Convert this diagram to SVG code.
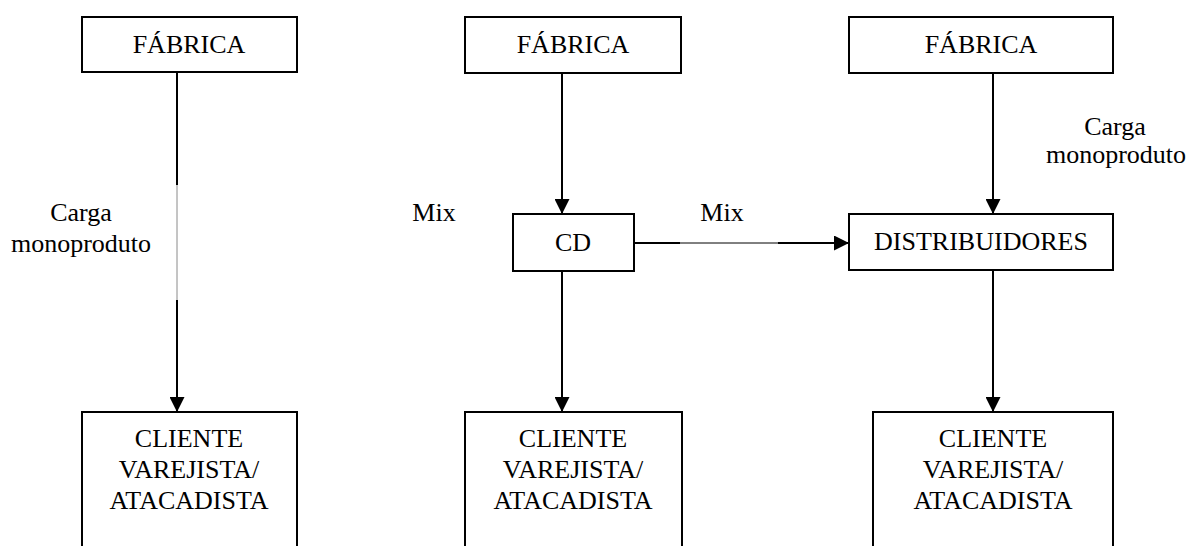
<svg xmlns="http://www.w3.org/2000/svg" width="1188" height="546" viewBox="0 0 1188 546">
  <style>
    .box { fill: #ffffff; stroke: #000000; stroke-width: 2; }
    text { font-family: 'Liberation Serif', 'Times New Roman', 'DejaVu Serif', serif; font-size: 26px; fill: #000000; text-anchor: middle; }
    .edge { stroke: #000000; stroke-width: 2; fill: none; }
    .edge-thin { stroke: #000000; stroke-width: 1; fill: none; }
    .edge-faint { stroke: #8a8a8a; stroke-width: 1; fill: none; }
  </style>
  <defs>
    <marker id="arrow" markerUnits="userSpaceOnUse" markerWidth="15" markerHeight="15" refX="15" refY="7.5" orient="auto">
      <path d="M0,0 L15,7.5 L0,15 Z" fill="#000000"/>
    </marker>
  </defs>

  <rect width="1188" height="546" fill="#ffffff"/>

  <!-- connectors -->
  <g id="connectors">
    <!-- left column: factory straight to customer -->
    <line class="edge" x1="177" y1="72" x2="177" y2="185"/>
    <line class="edge-faint" x1="177" y1="185" x2="177" y2="300"/>
    <line class="edge" x1="177" y1="300" x2="177" y2="412" marker-end="url(#arrow)"/>
    <!-- middle column -->
    <line class="edge" x1="562" y1="73" x2="562" y2="214" marker-end="url(#arrow)"/>
    <line class="edge" x1="562" y1="271" x2="562" y2="412" marker-end="url(#arrow)"/>
    <!-- CD to distributors -->
    <line class="edge" x1="634" y1="243" x2="680" y2="243"/>
    <line class="edge-thin" x1="680" y1="243" x2="778" y2="243"/>
    <line class="edge" x1="778" y1="243" x2="849" y2="243" marker-end="url(#arrow)"/>
    <!-- right column -->
    <line class="edge" x1="993" y1="73" x2="993" y2="214" marker-end="url(#arrow)"/>
    <line class="edge" x1="993" y1="270" x2="993" y2="412" marker-end="url(#arrow)"/>
  </g>

  <!-- edge labels -->
  <g id="labels" font-family="Liberation Serif, serif">
    <text x="81" y="221">Carga</text>
    <text x="81" y="252">monoproduto</text>
    <text x="434" y="221">Mix</text>
    <text x="722" y="221">Mix</text>
    <text x="1115" y="135">Carga</text>
    <text x="1116" y="163">monoproduto</text>
  </g>

  <!-- nodes -->
  <g id="fabrica-1">
    <rect class="box" x="82" y="17" width="215" height="55"/>
    <text x="189" y="53">FÁBRICA</text>
  </g>
  <g id="fabrica-2">
    <rect class="box" x="465" y="17" width="216" height="56"/>
    <text x="573" y="53">FÁBRICA</text>
  </g>
  <g id="fabrica-3">
    <rect class="box" x="849" y="17" width="264" height="56"/>
    <text x="981" y="53">FÁBRICA</text>
  </g>
  <g id="cd">
    <rect class="box" x="513" y="214" width="121" height="57"/>
    <text x="573" y="251">CD</text>
  </g>
  <g id="distribuidores">
    <rect class="box" x="849" y="214" width="264" height="56"/>
    <text x="981" y="250">DISTRIBUIDORES</text>
  </g>
  <g id="cliente-1">
    <rect class="box" x="82" y="412" width="215" height="150"/>
    <text x="189" y="447">CLIENTE</text>
    <text x="189" y="478">VAREJISTA/</text>
    <text x="189" y="509">ATACADISTA</text>
  </g>
  <g id="cliente-2">
    <rect class="box" x="465" y="412" width="217" height="150"/>
    <text x="573" y="447">CLIENTE</text>
    <text x="573" y="478">VAREJISTA/</text>
    <text x="573" y="509">ATACADISTA</text>
  </g>
  <g id="cliente-3">
    <rect class="box" x="873" y="412" width="240" height="150"/>
    <text x="993" y="447">CLIENTE</text>
    <text x="993" y="478">VAREJISTA/</text>
    <text x="993" y="509">ATACADISTA</text>
  </g>
</svg>
